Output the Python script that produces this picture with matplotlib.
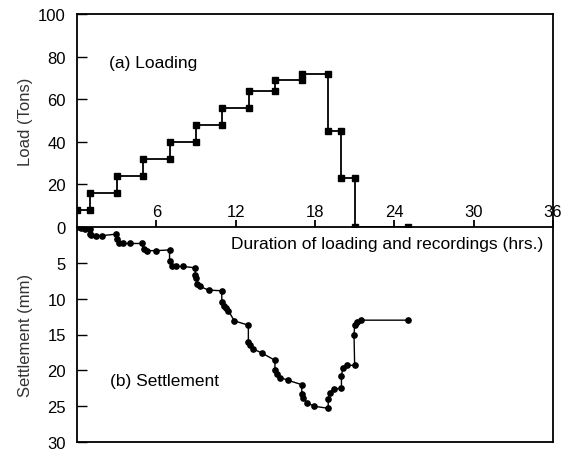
import matplotlib
matplotlib.use("Agg")
from matplotlib import pyplot as plt

plt.rcParams['font.family'] = ['Liberation Sans', 'DejaVu Sans']

# load steps (hrs, tons)
load_hours = [0, 1, 1, 3, 3, 5, 5, 7, 7, 9, 9, 11, 11, 13, 13, 15, 15, 17, 17,
              19, 19, 20, 20, 21, 21, 25]
load_tons = [8, 8, 16, 16, 24, 24, 32, 32, 40, 40, 48, 48, 56, 56, 64, 64, 69, 69,
             72, 72, 45, 45, 23, 23, 0, 0]

# settlement readings (hrs, mm)
settle_hours = [0, 0.3, 0.6, 0.95, 1.0, 1.05, 1.4, 1.9, 2.95, 3.0, 3.15, 3.5, 4.0,
                4.9, 5.05, 5.3, 6.0, 7.0, 7.0, 7.2, 7.45, 8.0, 8.95, 8.95, 9.0, 9.1,
                9.3, 9.95, 10.95, 10.95, 11.1, 11.25, 11.45, 11.9, 12.96, 12.96,
                13.1, 13.3, 14.0, 14.97, 14.97, 15.15, 15.35, 15.98, 17.0, 17.0,
                17.1, 17.4, 17.9, 19.0, 19.0, 19.1, 19.4, 20.0, 20.0, 20.1, 20.4,
                21.0, 20.95, 21.0, 21.2, 21.5, 25.0]
settle_mm = [0, 0.2, 0.25, 0.3, 1.0, 1.15, 1.2, 1.2, 1.0, 1.7, 2.2, 2.3, 2.3,
             2.3, 3.0, 3.3, 3.3, 3.2, 4.8, 5.4, 5.5, 5.5, 5.7, 6.7, 7.1, 8.0,
             8.3, 8.8, 8.9, 10.4, 11.0, 11.3, 11.7, 13.1, 13.7, 16.0,
             16.5, 17.0, 17.6, 18.6, 20.0, 20.5, 21.0, 21.4, 22.0, 23.3,
             23.9, 24.5, 25.0, 25.3, 24.0, 23.2, 22.6, 22.5, 20.8, 19.7, 19.3,
             19.3, 15.1, 13.7, 13.2, 13.0, 13.0]

x_ticks = [6, 12, 18, 24, 30, 36]
load_ticks = [0, 20, 40, 60, 80, 100]
settle_ticks = [0, 5, 10, 15, 20, 25, 30]

fig = plt.figure(figsize=(5.64, 4.52), dpi=100)
W, H = 564, 452
left, right = 77, 553
top, mid, bot = 15, 228, 443

ax2 = fig.add_axes([left / W, (H - bot) / H, (right - left) / W, (bot - mid) / H])
ax1 = fig.add_axes([left / W, (H - mid) / H, (right - left) / W, (mid - top) / H])
ax1.patch.set_visible(False)

# top: loading
ax1.plot(load_hours, load_tons, color='black', lw=1.3, marker='s', ms=4.5)
ax1.set_xlim(0, 36)
ax1.set_ylim(0, 100)
ax1.set_xticks([])
ax1.set_yticks(load_ticks)
ax1.tick_params(axis='y', direction='in', length=7, width=1, labelsize=12, pad=8)
ax1.spines['bottom'].set_visible(False)
ax1.set_ylabel('Load (Tons)', fontsize=12, color='#333333', labelpad=4)
ax1.text(2.4, 77, '(a) Loading', fontsize=12.5, va='center', ha='left')

# bottom: settlement
ax2.plot(settle_hours, settle_mm, color='black', lw=1, marker='o', ms=3.8)
ax2.set_xlim(0, 36)
ax2.set_ylim(30, 0)
ax2.xaxis.tick_top()
ax2.set_xticks(x_ticks)
ax2.tick_params(axis='x', direction='out', length=5, width=1.3, labelsize=12, pad=1)
ax2.set_yticks(settle_ticks)
ax2.set_yticklabels([''] + [str(t) for t in settle_ticks[1:]])
ax2.tick_params(axis='y', direction='in', length=7, width=1, labelsize=12, pad=8)
ax2.set_ylabel('Settlement (mm)', fontsize=12, color='#333333', labelpad=10)
ax2.text(35.3, 2.3, 'Duration of loading and recordings (hrs.)', fontsize=12.5,
         va='center', ha='right')
ax2.text(2.5, 21.4, '(b) Settlement', fontsize=12.5, va='center', ha='left')

for ax in (ax1, ax2):
    for s in ax.spines.values():
        s.set_linewidth(1.3)

fig.savefig('out.png', dpi=100)
